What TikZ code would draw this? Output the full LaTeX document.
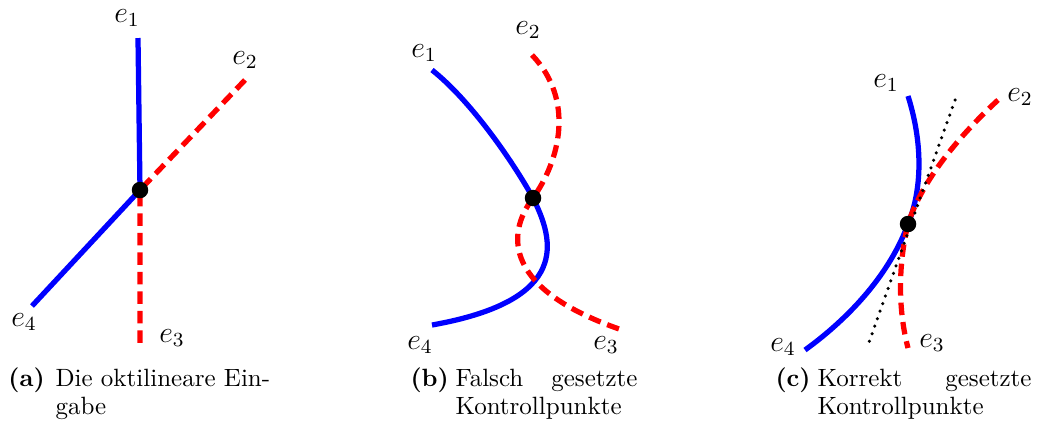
\documentclass[tikz,border=0pt]{standalone}
\usetikzlibrary{positioning}
\begin{document}
\begin{tikzpicture}[x=0.4pt, y=-0.4pt,
  blueedge/.style={blue, line width=2.1pt},
  rededge/.style={red, line width=2.1pt, dash pattern=on 5pt off 2.8pt},
  tangent/.style={black, line width=1.4pt, line cap=round, dash pattern=on 0pt off 3.2pt},
  vtx/.style={circle, fill=black, inner sep=0pt, minimum size=6.6pt},
  lbl/.style={inner sep=0pt, font=\large},
  capnum/.style={anchor=base west, inner sep=0pt, font=\bfseries},
  capword/.style={anchor=base west, inner sep=0pt}]
  \useasboundingbox (0,0) rectangle (1038,423);

  % (a) oktilineare Eingabe
  \coordinate (va) at (140,190);
  \coordinate (a1) at (138,38);
  \coordinate (a2) at (245,80);
  \coordinate (a3) at (140,348);
  \coordinate (a4) at (32,306);
  \draw[blueedge] (a1) -- (va) -- (a4);
  \draw[rededge] (a2) -- (va) -- (a3);
  \node[vtx] (da) at (va) {};
  \node[lbl] (la1) at (127,18) {$e_1$};
  \node[lbl] (la2) at (245,60) {$e_2$};
  \node[lbl] (la3) at (172,338) {$e_3$};
  \node[lbl] (la4) at (24,322) {$e_4$};

  % (b) falsche Kontrollpunkte
  \coordinate (vb) at (533,198);
  \coordinate (b1) at (432,70);
  \coordinate (b2) at (532,55);
  \coordinate (b3) at (622,330);
  \coordinate (b4) at (432,325);
  \draw[blueedge] (b1) .. controls (470,100) and (512,160) .. (vb)
    .. controls (554,240) and (572,300) .. (b4);
  \draw[rededge] (b2) .. controls (575,100) and (560,160) .. (vb)
    .. controls (505,235) and (505,290) .. (b3);
  \node[vtx] (db) at (vb) {};
  \node[lbl] (lb1) at (424,53) {$e_1$};
  \node[lbl] (lb2) at (528,30) {$e_2$};
  \node[lbl] (lb3) at (606,345) {$e_3$};
  \node[lbl] (lb4) at (420,345) {$e_4$};

  % (c) korrekte Kontrollpunkte
  \coordinate (vc) at (908,224);
  \coordinate (c1) at (908,96);
  \coordinate (c2) at (998,100);
  \coordinate (c3) at (908,348);
  \coordinate (c4) at (805,350);
  \coordinate (t1) at (955,100);
  \coordinate (t2) at (868,345);
  \draw[blueedge] (c1) .. controls (925,150) and (920,195) .. (vc)
    .. controls (893,265) and (860,310) .. (c4);
  \draw[rededge] (c2) .. controls (960,135) and (922,180) .. (vc)
    .. controls (898,265) and (898,310) .. (c3);
  \draw[tangent] (t1) -- (t2);
  \node[vtx] (dc) at (vc) {};
  \node[lbl] (lc1) at (886,83) {$e_1$};
  \node[lbl] (lc2) at (1020,97) {$e_2$};
  \node[lbl] (lc3) at (932,343) {$e_3$};
  \node[lbl] (lc4) at (783,347) {$e_4$};

  % Unterschriften
  \node[capnum] (na) at (8,386) {(a)};
  \node[capword] (ta1) at (55,386) {Die oktilineare Ein-};
  \node[capword] (ta2) at (55,414) {gabe};
  \node[capnum] (nb) at (410,386) {(b)};
  \node[capword] (tb1) at (455,386) {Falsch};
  \node[capword, anchor=base east] (tb2) at (638,386) {gesetzte};
  \node[capword] (tb3) at (455,414) {Kontrollpunkte};
  \node[capnum] (nc) at (775,386) {(c)};
  \node[capword] (tc1) at (817,386) {Korrekt};
  \node[capword, anchor=base east] (tc2) at (1032,386) {gesetzte};
  \node[capword] (tc3) at (817,414) {Kontrollpunkte};
\end{tikzpicture}
\end{document}
